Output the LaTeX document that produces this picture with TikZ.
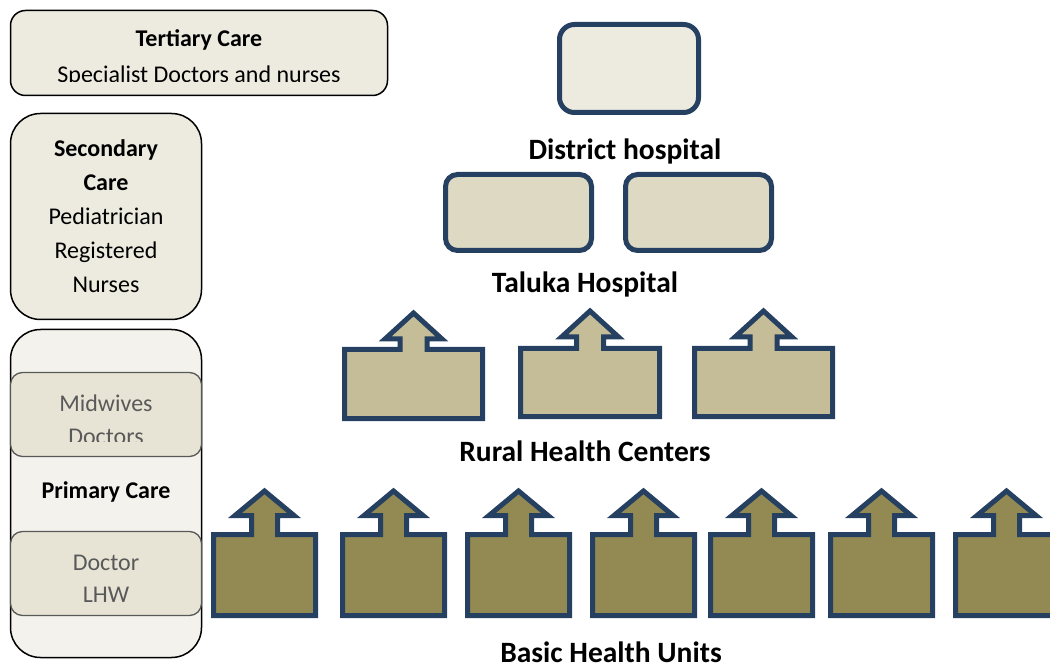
\documentclass[tikz,border=0pt]{standalone}
\usepackage{fontspec}
\setmainfont{Carlito}
\definecolor{navy}{RGB}{37,64,97}
\definecolor{paleA}{HTML}{EDEBE0}
\definecolor{paleB}{HTML}{F3F2EC}
\definecolor{paleC}{HTML}{E7E4D6}
\definecolor{taluka}{HTML}{DDD9C3}
\definecolor{rhc}{HTML}{C4BD97}
\definecolor{bhu}{HTML}{938953}
\definecolor{greytext}{HTML}{595959}
\tikzset{
  carebox/.style={draw=black, line width=1.5pt, rounded corners=#1, inner sep=0pt, fill=paleA},
  subbox/.style={draw=greytext, line width=1.3pt, rounded corners=12pt, inner sep=0pt, fill=paleC,
                 minimum width=191pt, minimum height=84pt},
  hospbox/.style={draw=navy, line width=5pt, rounded corners=#1, inner sep=0pt},
  unitshape/.style={draw=navy, line width=5pt, miter limit=10},
  txt/.style={inner sep=0pt, anchor=base, font=\fontsize{24}{28}\selectfont},
  btxt/.style={txt, font=\fontsize{24}{28}\selectfont\bfseries},
  gtxt/.style={txt, text=greytext, font=\fontsize{24}{28}\selectfont},
  level/.style={inner sep=0pt, anchor=base, font=\fontsize{29.5}{34}\selectfont\bfseries},
}
% facility with an upward arrow:
% #1 centre x, #2 half width, #3 top, #4 bottom, #5 stem half width,
% #6 head half width, #7 head base y, #8 tip y, #9 fill
\newcommand\upbox[9]{%
  \draw[unitshape, fill=#9]
    ({#1-#2},#3) -- ({#1-#5},#3) -- ({#1-#5},#7) -- ({#1-#6},#7) -- (#1,#8)
    -- ({#1+#6},#7) -- ({#1+#5},#7) -- ({#1+#5},#3) -- ({#1+#2},#3)
    -- ({#1+#2},#4) -- ({#1-#2},#4) -- cycle;}
\begin{document}
\begin{tikzpicture}[x=1pt,y=-1pt]
\useasboundingbox (0,0) rectangle (1050,668);

% ---- care levels (left column) ----
\node[carebox=15pt, minimum width=377pt, minimum height=85pt] (tert) at (199,53) {};
\begin{scope}
  \clip (0,0) rectangle (400,81.7);
  \node[btxt] (tertT) at (199,47) {Tertiary Care};
  \node[txt] (tertS) at (199,83) {Specialist Doctors and nurses};
\end{scope}

\node[carebox=30pt, minimum width=191pt, minimum height=206pt] (sec) at (106,216.5) {};
\node[btxt] (secA) at (106,157) {Secondary};
\node[btxt] (secB) at (106,191) {Care};
\node[txt] (secC) at (106,225) {Pediatrician};
\node[txt] (secD) at (106,259) {Registered};
\node[txt] (secE) at (106,293) {Nurses};

\node[carebox=30pt, fill=paleB, minimum width=191pt, minimum height=328pt] (prim) at (106,493.5) {};
\node[subbox] (mid) at (106,414.5) {};
\begin{scope}
  \clip (0,380) rectangle (210,441.7);
  \node[gtxt] (midA) at (106,411) {Midwives};
  \node[gtxt] (midB) at (106,444) {Doctors};
\end{scope}
\node[btxt] (primT) at (106,498) {Primary Care};
\node[subbox] (doc) at (106,573.5) {};
\node[gtxt] (docA) at (106,570) {Doctor};
\node[gtxt] (docB) at (106,602) {LHW};

% ---- hospitals ----
\node[hospbox=15pt, fill=paleA, minimum width=139pt, minimum height=88pt] (dist) at (629,68.5) {};
\node[level] (distL) at (625,159.5) {District hospital};

\node[hospbox=12pt, fill=taluka, minimum width=146pt, minimum height=76pt] (talA) at (518.5,212.5) {};
\node[hospbox=12pt, fill=taluka, minimum width=146pt, minimum height=76pt] (talB) at (698.5,212.5) {};
\node[level] (talL) at (585,293) {Taluka Hospital};

% ---- rural health centers ----
\upbox{413.5}{69}{349.5}{418.5}{13.5}{28.5}{339}{313}{rhc}
\upbox{590}{69.5}{348.5}{416.5}{13.5}{28.5}{337}{311}{rhc}
\upbox{763.5}{69}{348.5}{416.5}{13.5}{28.5}{337}{311}{rhc}
\node[level] (rhcL) at (585,461) {Rural Health Centers};

% ---- basic health units ----
\foreach \cx in {264.5,393.5,518.5,643.5,761.5,881.5,1006.5}
  \upbox{\cx}{51}{534.5}{615.5}{13}{29.5}{515.5}{491}{bhu};
\node[level] (bhuL) at (611,662.5) {Basic Health Units};
\end{tikzpicture}
\end{document}
